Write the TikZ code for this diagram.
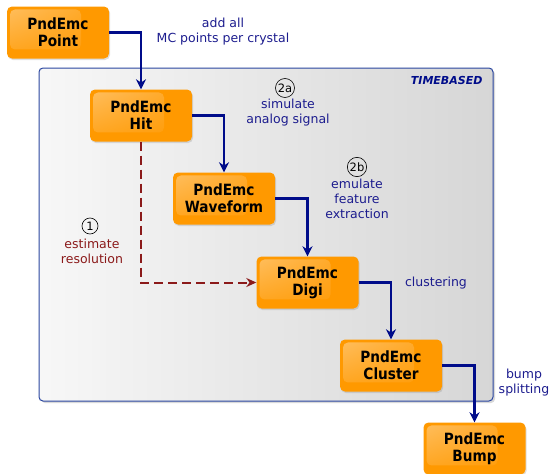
\documentclass[tikz,border=0pt]{standalone}
\usepackage{fontspec}
\setmainfont{DejaVu Sans}
\newfontfamily\boxfont[FakeStretch=0.88]{DejaVu Sans}
\usetikzlibrary{arrows.meta,shadows,fadings,shadings}

\definecolor{emcorange}{HTML}{FF9900}
\definecolor{flowblue}{HTML}{000C8A}
\definecolor{textblue}{HTML}{1C1C8E}
\definecolor{resred}{HTML}{8B1A1A}
\definecolor{framebl}{HTML}{2A46A0}

\tikzfading[name=glossfade, upper left=transparent!65, upper right=transparent!92,
  lower left=transparent!92, lower right=transparent!100]

\tikzset{
  emcbox/.style={fill=emcorange, rounded corners=5pt, minimum width=102pt, minimum height=52pt,
    align=center, inner sep=2pt, font=\boxfont\bfseries\fontsize{15.5}{17}\selectfont,
    drop shadow={opacity=0.25, shadow xshift=1pt, shadow yshift=-1.5pt},
    path picture={\fill[white, path fading=glossfade, rounded corners=5pt]
      ([shift={(3pt,-3pt)}]path picture bounding box.north west) rectangle
      ([shift={(-28pt,9pt)}]path picture bounding box.south east);}},
  flow/.style={line width=2.6pt, flowblue, -{Stealth[length=10pt,width=10pt]}},
  resflow/.style={line width=2pt, resred, dash pattern=on 9pt off 5pt, -{Stealth[length=10pt,width=9pt]}},
  note/.style={align=center, textblue, font=\fontsize{12.5}{15}\selectfont},
  stepnum/.style={circle, draw=black, semithick, inner sep=0.8pt, minimum size=16pt, font=\fontsize{11.5}{12}\selectfont}
}

\begin{document}
\begin{tikzpicture}[x=1pt,y=-1pt]
\useasboundingbox (0,0) rectangle (550,474);

% timebased frame
\node[draw=framebl, line width=1pt, rounded corners=4pt, left color=gray!6, right color=gray!32,
  minimum width=454pt, minimum height=333pt,
  drop shadow={opacity=0.3, shadow xshift=2pt, shadow yshift=-2pt}] (frame) at (266,234.5) {};
\node[anchor=east, flowblue, font=\bfseries\itshape\fontsize{11}{12}\selectfont] (tb) at (486,80) {TIMEBASED};

% the chain
\node[emcbox] (point) at (58,32.5) {PndEmc\\Point};
\node[emcbox] (hit) at (141,115.5) {PndEmc\\Hit};
\node[emcbox] (wave) at (224,198.5) {PndEmc\\Waveform};
\node[emcbox] (digi) at (307.5,282.5) {PndEmc\\Digi};
\node[emcbox] (cluster) at (391,365.5) {PndEmc\\Cluster};
\node[emcbox] (bump) at (474.5,448.5) {PndEmc\\Bump};

\draw[flow] (point.east) -| (hit.north);
\draw[flow] (hit.east) -| (wave.north);
\draw[flow] (wave.east) -| (digi.north);
\draw[flow] (digi.east) -| (cluster.north);
\draw[flow] (cluster.east) -| (bump.north);
\draw[resflow] (hit.south) |- (digi.west);

% notes
\node[note] (addall) at (223,32) {add all\\MC points per crystal};
\node[stepnum] (n2a) at (285,88) {2a};
\node[note] (simul) at (288,112.5) {simulate\\analog signal};
\node[stepnum] (n2b) at (357,167) {2b};
\node[note] (emul) at (357,199) {emulate\\feature\\extraction};
\node[stepnum] (n1) at (90,226) {1};
\node[note, text=resred] (estim) at (92,251.5) {estimate\\resolution};
\node[note] (clust) at (436,283) {clustering};
\node[note] (split) at (524,383) {bump\\splitting};
\end{tikzpicture}
\end{document}
